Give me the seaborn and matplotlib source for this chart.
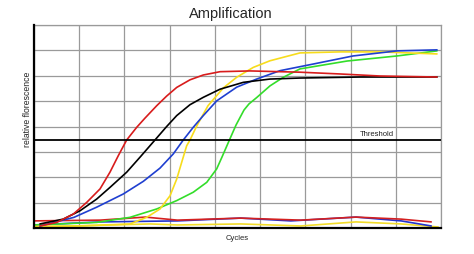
"""qPCR amplification curves with threshold line."""
import matplotlib

matplotlib.use("Agg")
import matplotlib.pyplot as plt
import numpy as np
import pandas as pd
import seaborn as sns

# cycles (x) and relative fluorescence (y)
red_x = [0.66, 2.51, 4.35, 5.83, 7.30, 8.40, 9.32, 10.25, 11.36, 12.27, 13.57, 14.67, 15.78,
         17.25, 18.72, 20.57, 23.88, 29.41, 33.84, 38.26, 44.56]
red_y = [0.08, 0.22, 0.55, 1.01, 1.54, 2.20, 2.85, 3.47, 3.97, 4.33, 4.82, 5.20, 5.54,
         5.84, 6.03, 6.16, 6.19, 6.14, 6.07, 5.99, 5.95]

black_x = [0.66, 3.24, 5.09, 6.93, 8.40, 10.25, 11.72, 13.38, 14.67, 15.78, 17.25, 18.72,
           20.57, 23.14, 26.09, 29.41, 36.05, 44.56]
black_y = [0.16, 0.35, 0.68, 1.14, 1.60, 2.20, 2.79, 3.47, 4.00, 4.43, 4.86, 5.15,
           5.47, 5.74, 5.87, 5.91, 5.95, 5.95]

blue_x = [0.66, 4.42, 6.93, 9.87, 12.09, 13.93, 15.40, 16.51, 17.61, 18.72, 20.20, 22.41,
          24.62, 27.20, 30.85, 35.27, 40.14, 44.56]
blue_y = [0.08, 0.42, 0.82, 1.34, 1.84, 2.36, 2.92, 3.47, 3.97, 4.43, 5.01, 5.55,
          5.87, 6.20, 6.46, 6.78, 6.98, 7.02]

yellow_x = [0.0, 5.09, 10.61, 12.46, 13.93, 15.04, 15.78, 16.33, 16.88, 17.25, 17.99, 19.24,
            20.93, 22.41, 24.25, 26.09, 29.41, 33.84, 38.26, 44.56]
yellow_y = [0.06, 0.08, 0.16, 0.42, 0.75, 1.27, 1.93, 2.59, 3.24, 3.47, 4.02, 4.82,
            5.52, 5.94, 6.33, 6.59, 6.90, 6.94, 6.94, 6.86]

green_x = [0.0, 6.93, 10.61, 13.57, 15.78, 17.61, 19.10, 20.20, 20.79, 21.56, 22.34, 23.22,
           23.77, 24.62, 26.09, 27.57, 29.41, 34.61, 40.14, 44.56]
green_y = [0.12, 0.22, 0.42, 0.75, 1.08, 1.41, 1.80, 2.33, 2.80, 3.43, 4.06, 4.65,
           4.89, 5.14, 5.60, 5.94, 6.27, 6.58, 6.78, 6.98]

# negative controls (flat baselines)
red_base_x = [0.0, 7.32, 12.31, 15.86, 22.85, 29.50, 35.60, 40.59, 43.92]
red_base_y = [0.28, 0.31, 0.43, 0.31, 0.39, 0.31, 0.43, 0.35, 0.24]

blue_base_x = [0.0, 7.32, 15.86, 22.85, 28.39, 35.60, 40.59, 43.92]
blue_base_y = [0.12, 0.24, 0.28, 0.39, 0.28, 0.43, 0.28, 0.08]

yellow_base_x = [0.0, 12.86, 15.86, 22.85, 29.50, 35.60, 40.59, 44.69]
yellow_base_y = [0.04, 0.16, 0.12, 0.16, 0.08, 0.24, 0.16, 0.04]

threshold = 3.48

series = [
    ("base_yellow", yellow_base_x, yellow_base_y, "#f2dc2a"),
    ("base_blue", blue_base_x, blue_base_y, "#2233cc"),
    ("base_red", red_base_x, red_base_y, "#d42020"),
    ("green", green_x, green_y, "#33dd2a"),
    ("yellow", yellow_x, yellow_y, "#f7dc1c"),
    ("blue", blue_x, blue_y, "#1f3fd0"),
    ("black", black_x, black_y, "#000000"),
    ("red", red_x, red_y, "#d81c1c"),
]

sns.set_theme(style="whitegrid")
plt.rcParams["font.family"] = ["Liberation Sans", "DejaVu Sans"]

fig = plt.figure(figsize=(4.74, 2.55), dpi=100)
ax = fig.add_axes([34 / 474, 26 / 255, 407 / 474, 203 / 255])

for name, xs, ys, color in series:
    df = pd.DataFrame({"cycle": xs, "rfu": ys})
    sns.lineplot(data=df, x="cycle", y="rfu", color=color, lw=1.2,
                 sort=False, solid_joinstyle="round", ax=ax)

ax.axhline(threshold, color="black", lw=1.3, zorder=3)
ax.text(37.9, threshold + 0.1, "Threshold", fontsize=5.5, ha="center",
        va="bottom", color="#222222")

ax.set_xlim(0, 45)
ax.set_ylim(0, 8)
ax.set_xticks(np.arange(0, 46, 5))
ax.set_yticks(np.arange(0, 9, 1))
ax.tick_params(length=0, labelbottom=False, labelleft=False)
ax.grid(True, color="#9a9a9a", lw=0.9)
ax.set_facecolor("white")
for side in ("top", "right"):
    ax.spines[side].set_color("#9a9a9a")
    ax.spines[side].set_linewidth(0.9)
for side in ("left", "bottom"):
    ax.spines[side].set_color("black")
    ax.spines[side].set_linewidth(1.6)
    ax.spines[side].set_zorder(4)

ax.set_xlabel("Cycles", fontsize=5.5, labelpad=4, color="#222222")
ax.set_ylabel("")
ax.text(-0.015, 0.591, "relative florescence", transform=ax.transAxes,
        rotation=90, fontsize=6.2, ha="center", va="center", color="#222222")

fig.text(231 / 474, 1 - 14 / 255, "Amplification", fontsize=10.5,
         ha="center", va="center")

fig.savefig("out.png", dpi=100)
